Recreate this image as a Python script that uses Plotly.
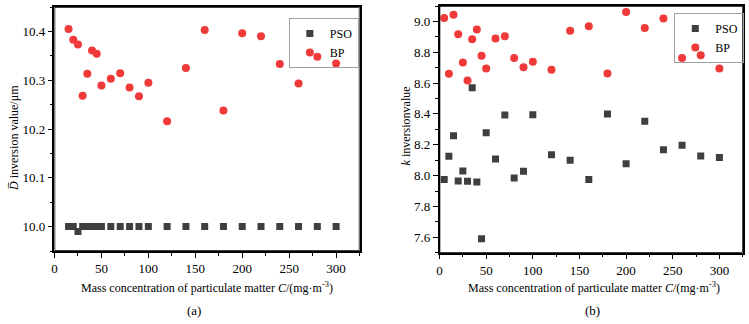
import plotly.graph_objects as go

# ---- data ----
conc_a = [15, 20, 25, 30, 35, 40, 45, 50, 60, 70, 80, 90, 100,
          120, 140, 160, 180, 200, 220, 240, 260, 280, 300]
d_pso = [10.0, 10.0, 9.99, 10.0, 10.0, 10.0, 10.0, 10.0, 10.0, 10.0, 10.0, 10.0, 10.0,
         10.0, 10.0, 10.0, 10.0, 10.0, 10.0, 10.0, 10.0, 10.0, 10.0]
d_bp = [10.405, 10.383, 10.373, 10.268, 10.313, 10.361, 10.354, 10.289, 10.303, 10.314,
        10.285, 10.267, 10.295, 10.216, 10.325, 10.403, 10.238, 10.396, 10.390, 10.333,
        10.293, 10.348, 10.334]

conc_b = [5, 10, 15, 20, 25, 30, 35, 40, 45, 50, 60, 70, 80, 90, 100,
          120, 140, 160, 180, 200, 220, 240, 260, 280, 300]
k_pso = [7.975, 8.125, 8.258, 7.965, 8.030, 7.963, 8.570, 7.958, 7.590, 8.278,
         8.108, 8.393, 7.985, 8.028, 8.395, 8.135, 8.100, 7.975, 8.400, 8.077,
         8.353, 8.168, 8.197, 8.127, 8.118]
k_bp = [9.022, 8.660, 9.043, 8.916, 8.733, 8.617, 8.884, 8.948, 8.778, 8.694,
        8.890, 8.903, 8.763, 8.703, 8.738, 8.686, 8.940, 8.968, 8.662, 9.061,
        8.957, 9.019, 8.763, 8.780, 8.694]

x_ticks = [0, 50, 100, 150, 200, 250, 300]
x_range = [0, 325]
ya_range = [9.95, 10.45]
yb_range = [7.5, 9.1]

W, H = 749, 324
FONT = "Liberation Serif"
PSO_COLOR = "#3f3f3f"
BP_COLOR = "#f03a3a"
LINE = "black"

def px(x):
    return x / W

def py(y):
    return 1 - y / H

fig = go.Figure()

fig.add_trace(go.Scatter(x=conc_a, y=d_pso, mode="markers", name="PSO",
                         marker=dict(symbol="square", size=7, color=PSO_COLOR),
                         xaxis="x", yaxis="y", legend="legend"))
fig.add_trace(go.Scatter(x=conc_a, y=d_bp, mode="markers", name="BP",
                         marker=dict(symbol="circle", size=8, color=BP_COLOR),
                         xaxis="x", yaxis="y", legend="legend"))
fig.add_trace(go.Scatter(x=conc_b, y=k_pso, mode="markers", name="PSO",
                         marker=dict(symbol="square", size=7, color=PSO_COLOR),
                         xaxis="x2", yaxis="y2", legend="legend2"))
fig.add_trace(go.Scatter(x=conc_b, y=k_bp, mode="markers", name="BP",
                         marker=dict(symbol="circle", size=8, color=BP_COLOR),
                         xaxis="x2", yaxis="y2", legend="legend2"))

# plot frames, traced along the axis ranges
for xa, ya, yr in (("x", "y", ya_range), ("x2", "y2", yb_range)):
    fig.add_trace(go.Scatter(
        x=[x_range[0], x_range[1], x_range[1], x_range[0], x_range[0]],
        y=[yr[0], yr[0], yr[1], yr[1], yr[0]],
        mode="lines", line=dict(color=LINE, width=1.5),
        xaxis=xa, yaxis=ya, showlegend=False, hoverinfo="skip", cliponaxis=False))

def axis(**kw):
    d = dict(showline=True, linecolor=LINE, linewidth=1.5, mirror=True,
             ticks="outside", ticklen=5, tickwidth=1, tickcolor=LINE,
             showgrid=False, zeroline=False,
             tickfont=dict(family=FONT, size=13, color="black"))
    d.update(kw)
    return d

fig.update_layout(
    width=W, height=H,
    margin=dict(l=0, r=0, t=0, b=0),
    paper_bgcolor="white", plot_bgcolor="white",
    showlegend=True,
    xaxis=axis(domain=[px(51.7), px(358)], range=x_range, anchor="y",
               tickvals=x_ticks,
               minor=dict(tickvals=[25, 75, 125, 175, 225, 275, 325], ticks="outside",
                          ticklen=3, tickcolor=LINE)),
    yaxis=axis(domain=[py(251), py(7)], range=ya_range, anchor="x",
               tickvals=[10.0, 10.1, 10.2, 10.3, 10.4], tickformat=".1f",
               minor=dict(tickvals=[9.95, 10.05, 10.15, 10.25, 10.35, 10.45], ticks="outside",
                          ticklen=3, tickcolor=LINE)),
    xaxis2=axis(domain=[px(438.3), px(742.7)], range=x_range, anchor="y2",
                tickvals=x_ticks,
                minor=dict(tickvals=[25, 75, 125, 175, 225, 275, 325], ticks="outside",
                           ticklen=3, tickcolor=LINE)),
    yaxis2=axis(domain=[py(252.7), py(6)], range=yb_range, anchor="x2",
                tickvals=[7.6, 7.8, 8.0, 8.2, 8.4, 8.6, 8.8, 9.0], tickformat=".1f",
                minor=dict(tickvals=[7.5, 7.7, 7.9, 8.1, 8.3, 8.5, 8.7, 8.9, 9.1],
                           ticks="outside", ticklen=3, tickcolor=LINE)),
    legend=dict(x=px(287), y=py(18), xanchor="left", yanchor="top",
                bordercolor="#a0a0a0", borderwidth=1, bgcolor="rgba(255,255,255,0)",
                font=dict(family=FONT, size=12, color="black"),
                itemwidth=30, tracegroupgap=0),
    legend2=dict(x=px(674), y=py(13), xanchor="left", yanchor="top",
                 bordercolor="#a0a0a0", borderwidth=1, bgcolor="rgba(255,255,255,0)",
                 font=dict(family=FONT, size=12, color="black"),
                 itemwidth=30, tracegroupgap=0),
)

ann_font = dict(family=FONT, size=12, color="black")
annotations = [
    dict(text="Mass concentration of particulate matter <i>C</i>/(mg·m<sup>-3</sup>)",
         x=px(205), y=py(287), xref="paper", yref="paper", showarrow=False,
         xanchor="center", yanchor="middle", font=ann_font),
    dict(text="Mass concentration of particulate matter <i>C</i>/(mg·m<sup>-3</sup>)",
         x=px(593), y=py(287), xref="paper", yref="paper", showarrow=False,
         xanchor="center", yanchor="middle", font=ann_font),
    dict(text="(a)", x=px(192), y=py(310), xref="paper", yref="paper", showarrow=False,
         xanchor="center", yanchor="middle", font=dict(family=FONT, size=13, color="black")),
    dict(text="(b)", x=px(592), y=py(310), xref="paper", yref="paper", showarrow=False,
         xanchor="center", yanchor="middle", font=dict(family=FONT, size=13, color="black")),
    dict(text="<i>D\u0305</i> inversion value/μm", x=px(11), y=py(138),
         xref="paper", yref="paper", showarrow=False, textangle=-90,
         xanchor="center", yanchor="middle", font=ann_font),
    dict(text="<i>k</i> inversionvalue", x=px(405), y=py(126),
         xref="paper", yref="paper", showarrow=False, textangle=-90,
         xanchor="center", yanchor="middle", font=ann_font),
]
fig.update_layout(annotations=annotations)

fig.write_html("out.html", config={"displayModeBar": False},
               post_script="document.body.style.margin='0';document.body.style.padding='0';")
